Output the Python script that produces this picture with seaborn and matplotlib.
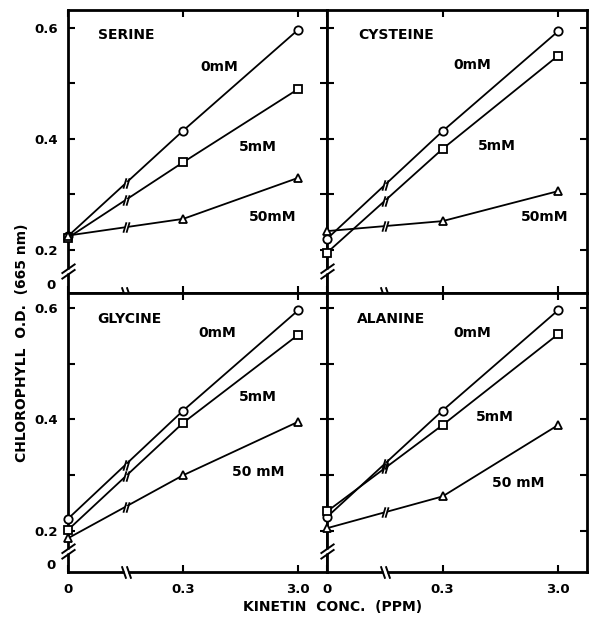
import numpy as np
import pandas as pd
import matplotlib
matplotlib.use("Agg")
import matplotlib.pyplot as plt
from matplotlib.path import Path
import seaborn as sns

# ---------------- data ----------------
kinetin = ["0", "0.3", "3.0"]
concentrations = ["0mM", "5mM", "50mM"]
panels = ["SERINE", "CYSTEINE", "GLYCINE", "ALANINE"]

serine_0mM = [0.225, 0.415, 0.597]
serine_5mM = [0.222, 0.358, 0.490]
serine_50mM = [0.226, 0.256, 0.330]
cysteine_0mM = [0.220, 0.414, 0.594]
cysteine_5mM = [0.195, 0.382, 0.550]
cysteine_50mM = [0.234, 0.252, 0.306]
glycine_0mM = [0.222, 0.416, 0.596]
glycine_5mM = [0.202, 0.394, 0.552]
glycine_50mM = [0.187, 0.300, 0.396]
alanine_0mM = [0.225, 0.416, 0.596]
alanine_5mM = [0.235, 0.390, 0.553]
alanine_50mM = [0.205, 0.262, 0.390]

series_labels_top = ["0mM", "5mM", "50mM"]
series_labels_bottom = ["0mM", "5mM", "50 mM"]
yticks_major = [0.2, 0.4, 0.6]
ytick_labels = ["0.2", "0.4", "0.6"]
yticks_minor = [0.3, 0.5]
y_zero_label = "0"
ylabel = "CHLOROPHYLL  O.D.  (665 nm)"
xlabel = "KINETIN  CONC.  (PPM)"

panel_data = {
    "SERINE": [serine_0mM, serine_5mM, serine_50mM],
    "CYSTEINE": [cysteine_0mM, cysteine_5mM, cysteine_50mM],
    "GLYCINE": [glycine_0mM, glycine_5mM, glycine_50mM],
    "ALANINE": [alanine_0mM, alanine_5mM, alanine_50mM],
}

# ---------------- style ----------------
sns.set_style("white")
plt.rcParams["font.family"] = ["DejaVu Sans"]
plt.rcParams["font.weight"] = "bold"
plt.rcParams["text.color"] = "black"
plt.rcParams["axes.labelcolor"] = "black"
plt.rcParams["xtick.color"] = "black"
plt.rcParams["ytick.color"] = "black"

fig = plt.figure(figsize=(5.9, 6.18), dpi=100)

axes_rects = [
    [0.1153, 0.5259, 0.4390, 0.4580],
    [0.5542, 0.5259, 0.4407, 0.4580],
    [0.1153, 0.0744, 0.4390, 0.4515],
    [0.5542, 0.0744, 0.4407, 0.4515],
]
ylims = [(0.1225, 0.6324), (0.1225, 0.6324), (0.1264, 0.6269), (0.1264, 0.6269)]

title_pos = [(0.116, 0.912), (0.119, 0.912), (0.112, 0.907), (0.115, 0.907)]
label_pos = [
    [(0.583, 0.80), (0.734, 0.516), (0.788, 0.27)],
    [(0.560, 0.806), (0.654, 0.52), (0.838, 0.27)],
    [(0.575, 0.857), (0.734, 0.627), (0.734, 0.358)],
    [(0.560, 0.857), (0.646, 0.556), (0.735, 0.32)],
]

M, L = Path.MOVETO, Path.LINETO
line_break = Path([(-0.6, -1), (0.0, 1), (0.0, -1), (0.6, 1)], [M, L, M, L])
ybreak = Path([(-1, -1.1), (1, 0.3), (-1, -0.3), (1, 1.1)], [M, L, M, L])
xbreak = Path([(-0.75, 1), (-0.05, -1), (0.05, 1), (0.75, -1)], [M, L, M, L])

markers = {"0mM": "o", "5mM": "s", "50mM": "^"}
x_pos = list(range(len(kinetin)))

for i, name in enumerate(panels):
    ax = fig.add_axes(axes_rects[i])
    rows = []
    for conc, vals in zip(concentrations, panel_data[name]):
        for xp, v in zip(x_pos, vals):
            rows.append({"pos": xp, "od": v, "conc": conc})
    df = pd.DataFrame(rows)

    sns.lineplot(data=df, x="pos", y="od", style="conc", markers=markers,
                 dashes=False, color="black", lw=1.3, markersize=6,
                 markerfacecolor="white", markeredgecolor="black",
                 markeredgewidth=1.3, clip_on=False, legend=False,
                 sort=False, ax=ax, zorder=3)

    # break marks on the data lines (between 0 and 0.3)
    for vals in panel_data[name]:
        mx = 0.5 * (x_pos[0] + x_pos[1])
        my = 0.5 * (vals[0] + vals[1])
        ax.plot([mx], [my], marker="o", ms=2.6, mfc="white", mec="none",
                ls="none", zorder=4)
        ax.plot([mx], [my], marker=line_break, ms=7.5, mec="black",
                mew=1.3, ls="none", zorder=5)

    ax.set_xlim(0, 2.25)
    ax.set_ylim(*ylims[i])
    ax.set_xlabel("")
    ax.set_ylabel("")

    for sp in ax.spines.values():
        sp.set_linewidth(2.0)
        sp.set_color("black")

    ax.set_xticks(x_pos)
    ax.set_yticks(yticks_major)
    ax.set_yticks(yticks_minor, minor=True)
    ax.tick_params(which="both", direction="in", length=5, width=1.5,
                   top=True, right=True, bottom=True, left=True,
                   labelsize=9.5, colors="black")
    ax.tick_params(axis="y", pad=7)
    ax.tick_params(axis="x", pad=8)

    if i >= 2:
        ax.set_xticklabels(kinetin, fontweight="bold")
    else:
        ax.set_xticklabels([])
    if i % 2 == 0:
        ax.set_yticklabels(ytick_labels, fontweight="bold")
        ax.annotate(y_zero_label, xy=(0, 0.025), xycoords="axes fraction",
                    xytext=(-9, 0), textcoords="offset points",
                    ha="right", va="center", fontsize=9.5, fontweight="bold",
                    color="black")
    else:
        ax.set_yticklabels([])

    # axis break marks
    ax.plot([0], [0.076], transform=ax.transAxes, marker="s", ms=3,
            mfc="white", mec="none", ls="none", clip_on=False, zorder=6)
    ax.plot([0], [0.076], transform=ax.transAxes, marker=ybreak, ms=11,
            mec="black", mew=1.4, ls="none", clip_on=False, zorder=7)
    xt = ax.get_xaxis_transform()
    ax.plot([0.5], [0], transform=xt, marker="s", ms=3,
            mfc="white", mec="none", ls="none", clip_on=False, zorder=6)
    ax.plot([0.5], [0], transform=xt, marker=xbreak, ms=9,
            mec="black", mew=1.4, ls="none", clip_on=False, zorder=7)

    # texts
    ax.text(title_pos[i][0], title_pos[i][1], name, transform=ax.transAxes,
            ha="left", va="center", fontsize=10, fontweight="bold",
            color="black")
    labs = series_labels_top if i < 2 else series_labels_bottom
    for lab, (lx, ly) in zip(labs, label_pos[i]):
        ax.text(lx, ly, lab, transform=ax.transAxes, ha="center",
                va="center", fontsize=10, fontweight="bold", color="black")

fig.text(0.037, 0.446, ylabel, rotation=90, ha="center", va="center",
         fontsize=10, fontweight="bold", color="black")
fig.text(0.563, 0.018, xlabel, ha="center", va="center",
         fontsize=10, fontweight="bold", color="black")

fig.savefig("out.png", dpi=100)
